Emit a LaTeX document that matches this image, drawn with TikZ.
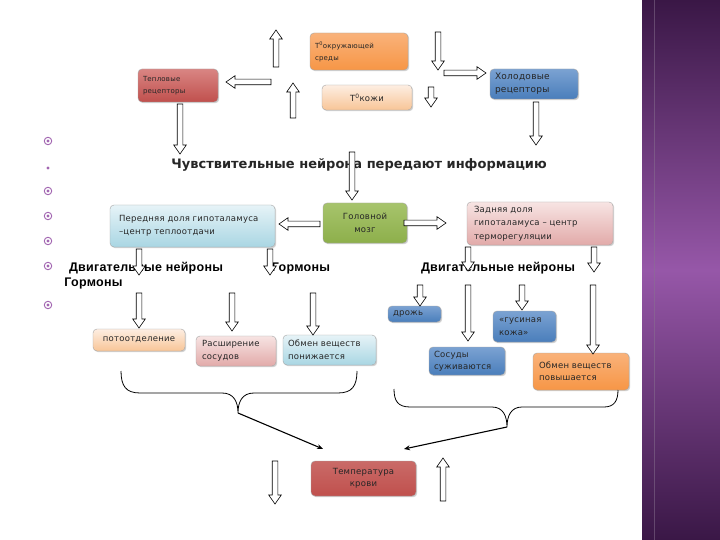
\documentclass[tikz,border=0pt]{standalone}
\usepackage{fontspec}
\setmainfont{DejaVu Sans}
\newfontfamily\bxf{DejaVu Sans}[LetterSpace=3]
\newfontfamily\lbf{Liberation Sans}[LetterSpace=2]
\usetikzlibrary{shapes.arrows,shadows,arrows.meta}
\definecolor{orB}{HTML}{F79646}
\definecolor{orT}{HTML}{F9B27A}
\definecolor{rdB}{HTML}{C0504D}
\definecolor{rdT}{HTML}{D98583}
\definecolor{pcT}{HTML}{FDEEE2}
\definecolor{pcB}{HTML}{F8C597}
\definecolor{blB}{HTML}{4A7EBB}
\definecolor{blT}{HTML}{7BA2D2}
\definecolor{cyT}{HTML}{E6F3F7}
\definecolor{cyB}{HTML}{A9D6E3}
\definecolor{grB}{HTML}{8DAF4B}
\definecolor{grT}{HTML}{A7C46C}
\definecolor{pkT}{HTML}{F7E4E3}
\definecolor{pkB}{HTML}{E2AAA9}
\definecolor{purp}{HTML}{8B3F9E}
\definecolor{bandD}{HTML}{3A1746}
\definecolor{bandM}{HTML}{9657A8}
\newcommand\varr[4]{%
  \pgfmathsetmacro\myalen{abs(#4-#3)}%
  \pgfmathsetmacro\myamid{(#3+#4)/2}%
  \pgfmathsetmacro\myarot{(#4>#3)?-90:90}%
  \node[barrow, minimum height=\myalen pt, rotate=\myarot] (#1) at (#2,\myamid) {\rule{0pt}{5pt}};%
}
\newcommand\harr[4]{%
  \pgfmathsetmacro\myalen{abs(#4-#3)}%
  \pgfmathsetmacro\myamid{(#3+#4)/2}%
  \pgfmathsetmacro\myarot{(#4>#3)?0:180}%
  \node[barrow, minimum height=\myalen pt, rotate=\myarot] (#1) at (\myamid,#2) {\rule{0pt}{5pt}};%
}
\tikzset{
  box/.style={rounded corners=4pt, draw=black!35, line width=0.4pt, inner ysep=2pt, inner xsep=5pt,
    font=\bxf\fontsize{8.5}{12.5}\selectfont, text=black!85, align=left,
    drop shadow={shadow xshift=1.2pt, shadow yshift=-1.2pt, opacity=0.35}},
  orbox/.style={box, top color=orT, bottom color=orB},
  rdbox/.style={box, top color=rdT, bottom color=rdB},
  pcbox/.style={box, top color=pcT, bottom color=pcB},
  blbox/.style={box, top color=blT, bottom color=blB},
  cybox/.style={box, top color=cyT, bottom color=cyB},
  grbox/.style={box, top color=grT, bottom color=grB},
  pkbox/.style={box, top color=pkT, bottom color=pkB},
  barrow/.style={single arrow, draw=black, fill=white, line width=0.6pt, inner sep=0pt,
    single arrow head extend=3.5pt, single arrow tip angle=70, single arrow head indent=0pt,
    anchor=center},
  lbl/.style={font=\lbf\bfseries\fontsize{12.5}{14}\selectfont, inner sep=0pt},
  bul/.style={circle, draw=purp!80, line width=0.9pt, inner sep=0pt, minimum size=7.5pt},
  conn/.style={line width=1.1pt, -{Stealth[length=6pt,width=5pt]}},
  brace/.style={line width=0.8pt}
}
\begin{document}
\begin{tikzpicture}[x=1pt,y=-1pt]
\useasboundingbox (0,0) rectangle (720,540);
\fill[white] (0,0) rectangle (720,540);
% right band
\shade[top color=bandD, bottom color=bandD, middle color=bandM] (642,0) rectangle (720,540);
\draw[bandD!60, line width=0.6pt, opacity=0.5] (654,0) -- (654,540);

% bullets
\foreach \yy/\nm in {141/b1,191/b3,216/b4,241/b5,266/b6,305/b7}{
  \node[bul] (\nm) at (48,\yy) {};
  \fill[purp!80] (48,\yy) circle (1.6pt);
}
\fill[purp!80] (48,168) circle (1.7pt);

% top boxes
\node[orbox, minimum height=37pt, text width=88pt, font=\bxf\fontsize{7}{12}\selectfont] (okr) at (359,51.5) {Т\textsuperscript{0}окружающей\\среды};
\node[rdbox, minimum height=33pt, text width=70pt, font=\bxf\fontsize{7}{12}\selectfont] (tepl) at (178,85.5) {Тепловые\\рецепторы};
\node[pcbox, minimum width=90pt, minimum height=25pt, align=center] (kozhi) at (367,97.5) {Т\textsuperscript{0}кожи};
\node[blbox, minimum height=30pt, text width=78pt, font=\bxf\fontsize{9}{13}\selectfont] (hol) at (534,84) {Холодовые\\рецепторы};

% heading
\node[font=\bfseries\fontsize{13}{15}\selectfont, inner sep=0pt, text=black!85] (sens) at (359,165) {Чувствительные нейрона передают информацию};

% middle boxes
\node[cybox, minimum height=42pt, text width=147pt, inner xsep=9pt] (pered) at (192.5,226) {Передняя доля гипоталамуса\\–центр теплоотдачи};
\node[grbox, minimum width=84pt, minimum height=40pt, align=center] (golov) at (365,223) {Головной\\мозг};
\node[pkbox, minimum height=43pt, text width=132pt, inner xsep=7pt, font=\bxf\fontsize{8.5}{13.5}\selectfont] (zadn) at (540,223.5) {Задняя доля\\гипоталамуса – центр\\терморегуляции};

% labels
\node[lbl] (dn1) at (146,268) {Двигательные нейроны};
\node[lbl] (g1) at (93.5,283) {Гормоны};
\node[lbl] (g2) at (301,268) {Гормоны};
\node[lbl] (dn2) at (498,268) {Двигательные нейроны};

% bottom boxes
\node[pcbox, minimum width=92pt, minimum height=22pt, align=center] (poto) at (139,340) {потоотделение};
\node[pkbox, minimum height=30pt, text width=68pt, inner xsep=6pt] (rassh) at (236,351) {Расширение\\сосудов};
\node[cybox, minimum height=30pt, text width=83pt] (obmP) at (329.5,350) {Обмен веществ\\понижается};
\node[blbox, minimum height=16pt, text width=43pt] (drozh) at (414.5,314) {дрожь};
\node[blbox, minimum height=31pt, text width=51pt, inner xsep=6pt] (gus) at (524.5,326.5) {«гусиная\\кожа»};
\node[blbox, minimum height=28pt, text width=66pt] (sosud) at (467,361) {Сосуды\\суживаются};
\node[orbox, minimum height=37pt, text width=84pt, inner xsep=6pt] (obmV) at (581,371.5) {Обмен веществ\\повышается};
\node[rdbox, top color=rdB!85!white, bottom color=rdB, minimum width=105pt, minimum height=35pt, align=center] (temp) at (363.5,478.5) {Температура\\крови};

% block arrows
\varr{a1}{276}{69}{32}
\varr{a2}{293}{120}{85}
\varr{a3}{438}{30}{68}
\varr{a4}{431}{85}{105}
\varr{a5}{536}{100}{143}
\varr{a6}{180}{102}{152}
\varr{a7}{352}{150}{198}
\varr{a8}{139}{247}{273}
\varr{a9}{270}{247}{273}
\varr{a10}{468}{245}{269}
\varr{a11}{594}{245}{270}
\varr{a12}{139}{291}{326}
\varr{a13}{232}{291}{329}
\varr{a14}{313}{291}{333}
\varr{a15}{420}{283}{304}
\varr{a16}{468}{283}{339}
\varr{a17}{522}{283}{308}
\varr{a18}{593}{283}{352}
\varr{a19}{275}{459}{502}
\varr{a20}{443}{503}{460}
\harr{h1}{82}{273}{228}
\harr{h2}{73}{442}{484}
\harr{h3}{224}{322}{281}
\harr{h4}{223}{402}{444}

% braces
\coordinate (lbt) at (238,413);
\coordinate (rbt) at (507,427);
\coordinate (lend) at (323,449);
\coordinate (rend) at (404,449);
\draw[brace] (121,371) .. controls (121,386) and (126,393) .. (140,393) -- (222,393)
  .. controls (234,393) and (238,402) .. (lbt) .. controls (238,402) and (242,393) .. (254,393)
  -- (338,393) .. controls (352,393) and (357,386) .. (357,371);
\draw[brace] (394,389) .. controls (394,401) and (398,407) .. (410,407) -- (492,407)
  .. controls (503,407) and (507,416) .. (rbt) .. controls (507,416) and (511,407) .. (522,407)
  -- (604,407) .. controls (614,407) and (618,401) .. (618,390);
\draw[conn] (lbt) -- (lend);
\draw[conn] (rbt) -- (rend);
\end{tikzpicture}
\end{document}
